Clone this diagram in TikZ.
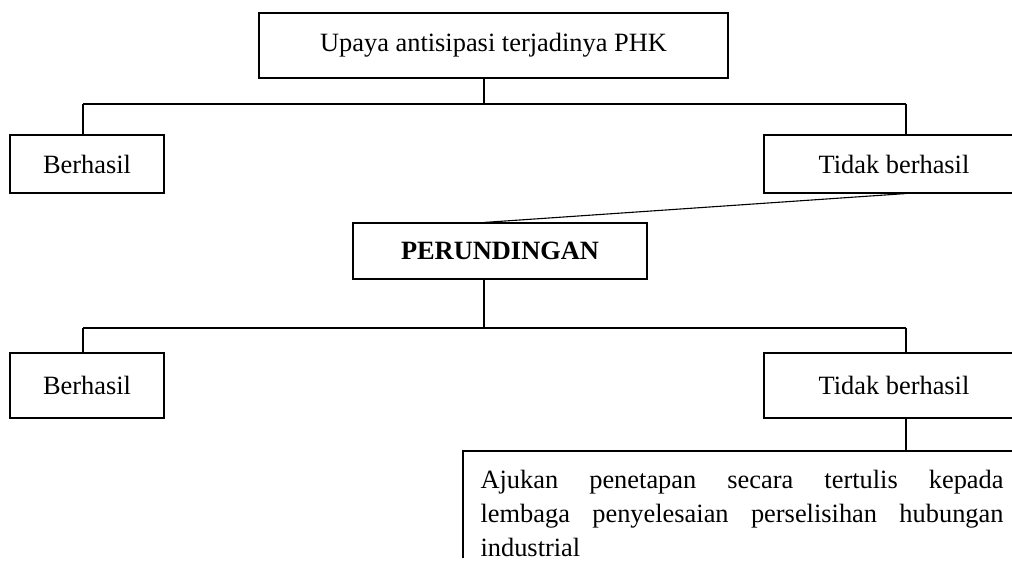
\documentclass[tikz,border=0pt]{standalone}
\usepackage{fontspec}
\setmainfont{Liberation Serif}
\begin{document}
\begin{tikzpicture}[x=1pt,y=1pt, line width=1.1pt,
  txt/.style={font=\fontsize{26.4}{34}\selectfont},
  box/.style={draw, line width=1.1pt, inner sep=0pt, txt},
]
\clip (0,0) rectangle (1012,571);
% boxes
\node[box, minimum width=469, minimum height=65] (top) at (493.5,525.5) {Upaya antisipasi terjadinya PHK};
\node[box, minimum width=154, minimum height=58] (b1) at (87,407) {Berhasil};
\node[box, minimum width=260, minimum height=58] (t1) at (894,407) {Tidak berhasil};
\node[box, minimum width=294, minimum height=56] (per) at (500,320) {\bfseries PERUNDINGAN};
\node[box, minimum width=154, minimum height=65] (b2) at (87,185.5) {Berhasil};
\node[box, minimum width=260, minimum height=65] (t2) at (894,185.5) {Tidak berhasil};
\node[txt, anchor=base west, inner sep=0pt, text width=523pt, align=justify] (bt) at (480,83)
  {Ajukan penetapan secara tertulis kepada\linebreak lembaga penyelesaian perselisihan hubungan\linebreak industrial};
% junction coordinates
\coordinate (j1) at (484,467);
\coordinate (l1) at (83,467);
\coordinate (r1) at (906,467);
\coordinate (j2) at (484,243);
\coordinate (l2) at (83,243);
\coordinate (r2) at (906,243);
\coordinate (bl) at (463,13);
\coordinate (tl) at (463,120);
\coordinate (tr) at (1020,120);
% connectors
\draw (top.south -| j1) -- (j1);
\draw (l1) -- (r1);
\draw (l1) -- (b1.north -| l1);
\draw (r1) -- (t1.north -| r1);
\draw (t1.south -| r1) -- (per.north -| j1);
\draw (per.south -| j2) -- (j2);
\draw (l2) -- (r2);
\draw (l2) -- (b2.north -| l2);
\draw (r2) -- (t2.north -| r2);
\draw (t2.south -| r2) -- (tl -| r2);
% bottom frame (open)
\draw (bl) -- (tl) -- (tr);
\end{tikzpicture}
\end{document}
